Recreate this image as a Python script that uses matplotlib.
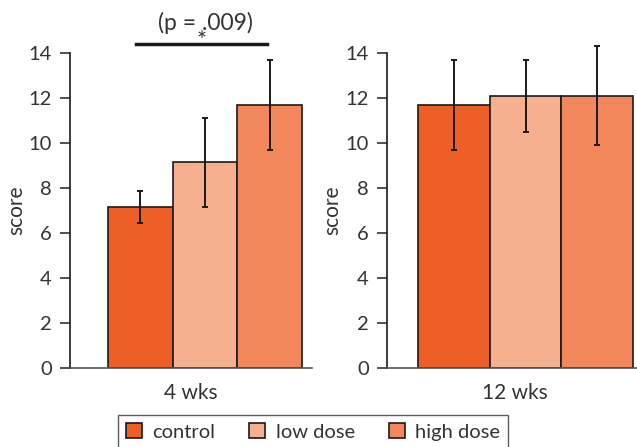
import matplotlib.pyplot as plt
from matplotlib.patches import Patch
import numpy as np

plt.rcParams['font.family'] = ['Lato', 'DejaVu Sans']
plt.rcParams['font.size'] = 15

groups = ['control', 'low dose', 'high dose']
colors = ['#EE5F28', '#F6AF8F', '#F3875C']
periods = ['4 wks', '12 wks']

# mean scores and error bar ends
means = {'4 wks': [7.15, 9.15, 11.7],
         '12 wks': [11.7, 12.1, 12.1]}
err_lo = {'4 wks': [6.45, 7.15, 9.7],
          '12 wks': [9.7, 10.5, 9.9]}
err_hi = {'4 wks': [7.85, 11.1, 13.7],
          '12 wks': [13.7, 13.7, 14.3]}

W, H = 637, 447
fig = plt.figure(figsize=(W / 100, H / 100), dpi=100)

# axes boxes in pixels: left, width, xlim
boxes = [(70, 242, (-2.08, 1.65)), (386.7, 257.3, (-1.944, 1.654))]
axes = []
for (left, width, xlim), period in zip(boxes, periods):
    ax = fig.add_axes([left / W, (H - 368) / H, width / W, 315 / H])
    x = np.arange(3) - 1
    m = np.array(means[period])
    lo = m - np.array(err_lo[period])
    hi = np.array(err_hi[period]) - m
    ax.bar(x, m, width=1.0, color=colors, edgecolor='#1a1a1a', linewidth=1.2, zorder=2)
    eb = ax.errorbar(x, m, yerr=[lo, hi], fmt='none', ecolor='#1a1a1a',
                     elinewidth=1.4, capsize=2.5, capthick=1.4, zorder=3)
    for art in eb.get_children():
        art.set_clip_on(False)
    ax.set_xlim(*xlim)
    ax.set_ylim(0, 14)
    ax.set_yticks(range(0, 15, 2))
    ax.set_xticks([])
    ax.set_xlabel(period, color='#333333', labelpad=11)
    ax.set_ylabel('score', color='#333333', labelpad=2)
    for s in ['top', 'right']:
        ax.spines[s].set_visible(False)
    ax.spines['left'].set_color('#1a1a1a')
    ax.spines['bottom'].set_color('#555555')
    ax.spines['left'].set_linewidth(1.2)
    ax.spines['bottom'].set_linewidth(1.2)
    ax.tick_params(axis='y', length=7, width=1.2, colors='#333333', pad=6, labelsize=14.5)
    axes.append(ax)

# significance bracket on the 4 wks panel
ax = axes[0]
ax.plot([-1.06, 0.95], [14.4, 14.4], color='#1a1a1a', lw=2.5, clip_on=False)
ax.text(0.0, 15.35, '(p = .009)', ha='center', va='center', color='#333333', fontsize=16.5)
ax.text(-0.05, 14.25, '*', ha='center', va='baseline', color='#333333', fontsize=17)

handles = [Patch(facecolor=c, edgecolor='#1a1a1a', linewidth=1.2) for c in colors]
fig.legend(handles, groups, loc='upper center', bbox_to_anchor=(313 / W, 1 - 415 / H),
           ncol=3, frameon=True, fancybox=False, edgecolor='#333333', fontsize=14.5,
           handlelength=0.8, handleheight=0.8, handletextpad=0.5, columnspacing=1.7,
           borderpad=0.4, borderaxespad=0, labelcolor='#333333')

fig.savefig('out.png', dpi=100)
